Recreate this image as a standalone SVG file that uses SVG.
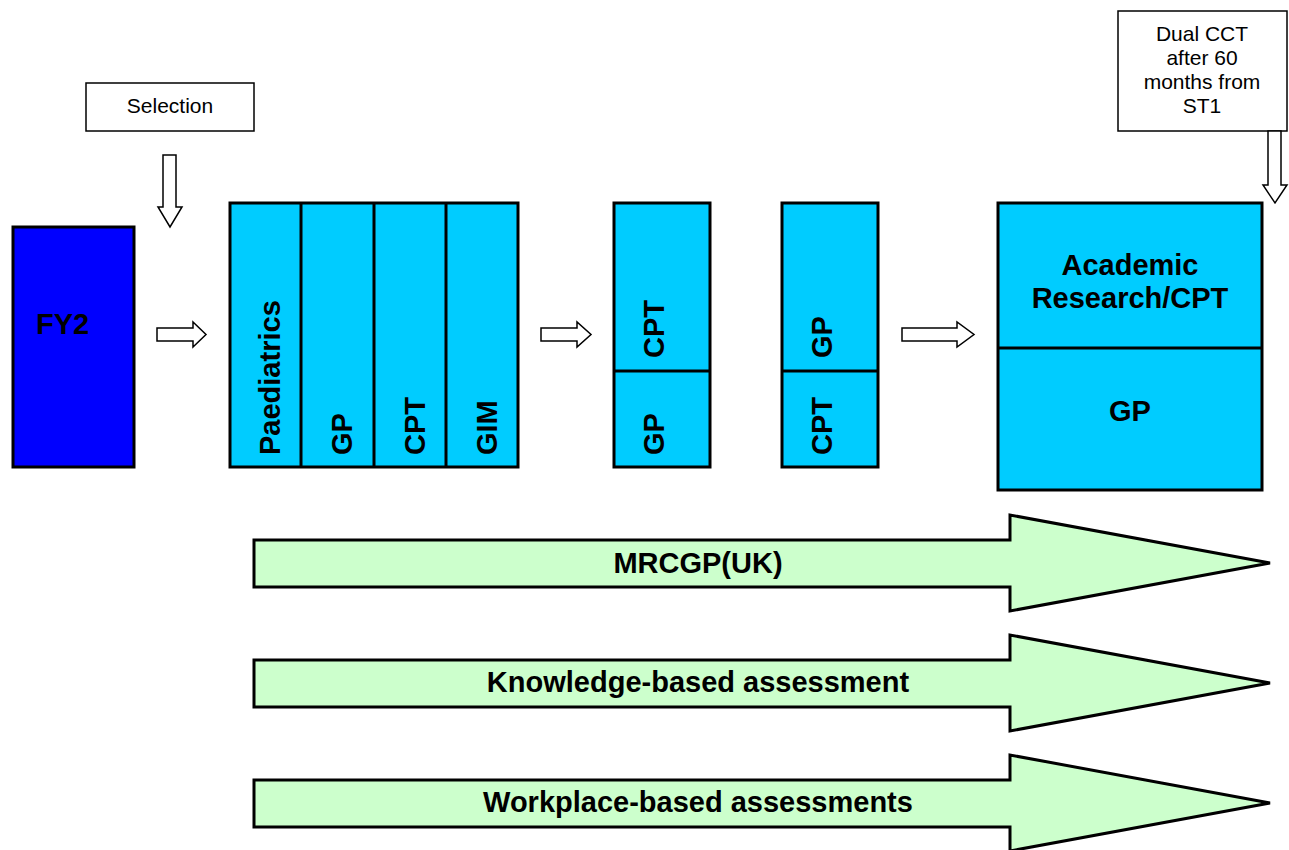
<svg xmlns="http://www.w3.org/2000/svg" width="1289" height="850" viewBox="0 0 1289 850">
<style>
.blk{fill:#00CCFF;stroke:#000;stroke-width:3}
.div{stroke:#000;stroke-width:3}
.lbl{font-family:"Liberation Sans",Arial,sans-serif;font-weight:bold;font-size:29px;fill:#000}
.small{font-family:"Liberation Sans",Arial,sans-serif;font-size:21px;fill:#000;text-anchor:middle}
.note{fill:#fff;stroke:#000;stroke-width:1.5}
.arr{fill:#fff;stroke:#000;stroke-width:1.5;stroke-linejoin:miter}
.big{fill:#CCFFCC;stroke:#000;stroke-width:3;stroke-linejoin:miter}
</style>
<rect width="1289" height="850" fill="#fff"/>
<g id="selection">
<rect class="note" x="86" y="83" width="168" height="48"/>
<text class="small" x="170" y="113">Selection</text>
</g>
<g id="dualcct">
<rect class="note" x="1118" y="11" width="169" height="120"/>
<text class="small" x="1202" y="41">Dual CCT</text>
<text class="small" x="1202" y="65">after 60</text>
<text class="small" x="1202" y="89">months from</text>
<text class="small" x="1202" y="113">ST1</text>
</g>
<g id="fy2">
<rect x="13" y="227" width="121" height="240" fill="#0000FF" stroke="#000" stroke-width="3"/>
<text class="lbl" x="36" y="334">FY2</text>
</g>
<g id="block1">
<rect class="blk" x="230" y="203" width="288" height="264"/>
<line class="div" x1="301" y1="203" x2="301" y2="467"/>
<line class="div" x1="374" y1="203" x2="374" y2="467"/>
<line class="div" x1="446" y1="203" x2="446" y2="467"/>
<text class="lbl" transform="translate(280,455) rotate(-90)">Paediatrics</text>
<text class="lbl" transform="translate(352,455) rotate(-90)">GP</text>
<text class="lbl" transform="translate(425,455) rotate(-90)">CPT</text>
<text class="lbl" transform="translate(497,455) rotate(-90)">GIM</text>
</g>
<g id="block2">
<rect class="blk" x="614" y="203" width="96" height="264"/>
<line class="div" x1="614" y1="371" x2="710" y2="371"/>
<text class="lbl" transform="translate(664,358) rotate(-90)">CPT</text>
<text class="lbl" transform="translate(664,455) rotate(-90)">GP</text>
</g>
<g id="block3">
<rect class="blk" x="782" y="203" width="96" height="264"/>
<line class="div" x1="782" y1="371" x2="878" y2="371"/>
<text class="lbl" transform="translate(832,358) rotate(-90)">GP</text>
<text class="lbl" transform="translate(832,455) rotate(-90)">CPT</text>
</g>
<g id="final">
<rect class="blk" x="998" y="203" width="264" height="287"/>
<line class="div" x1="998" y1="348" x2="1262" y2="348"/>
<text class="lbl" x="1130" y="275" text-anchor="middle">Academic</text>
<text class="lbl" x="1130" y="308" text-anchor="middle">Research/CPT</text>
<text class="lbl" x="1130" y="421" text-anchor="middle">GP</text>
</g>
<g id="mrcgp">
<polygon class="big" points="254,540 1010,540 1010,515 1270,563 1010,611 1010,587 254,587"/>
<text class="lbl" x="698" y="573" text-anchor="middle">MRCGP(UK)</text>
</g>
<g id="kba">
<polygon class="big" points="254,660 1010,660 1010,635 1270,683 1010,731 1010,707 254,707"/>
<text class="lbl" x="698" y="692" text-anchor="middle">Knowledge-based assessment</text>
</g>
<g id="wba">
<polygon class="big" points="254,780 1010,780 1010,755 1270,803 1010,851 1010,827 254,827"/>
<text class="lbl" x="698" y="812" text-anchor="middle">Workplace-based assessments</text>
</g>
<g id="connectors">
<polygon class="arr" points="163,155 176,155 176,207 182,207 170,227 158,207 163,207"/>
<polygon class="arr" points="1268,131 1281,131 1281,185 1287,185 1275,203 1263,185 1268,185"/>
<polygon class="arr" points="157,328 193,328 193,322 206,334.5 193,347 193,341 157,341"/>
<polygon class="arr" points="541,328 577,328 577,322 591,334.5 577,347 577,341 541,341"/>
<polygon class="arr" points="902,328 957,328 957,322 974,334.5 957,347 957,341 902,341"/>
</g>
</svg>
